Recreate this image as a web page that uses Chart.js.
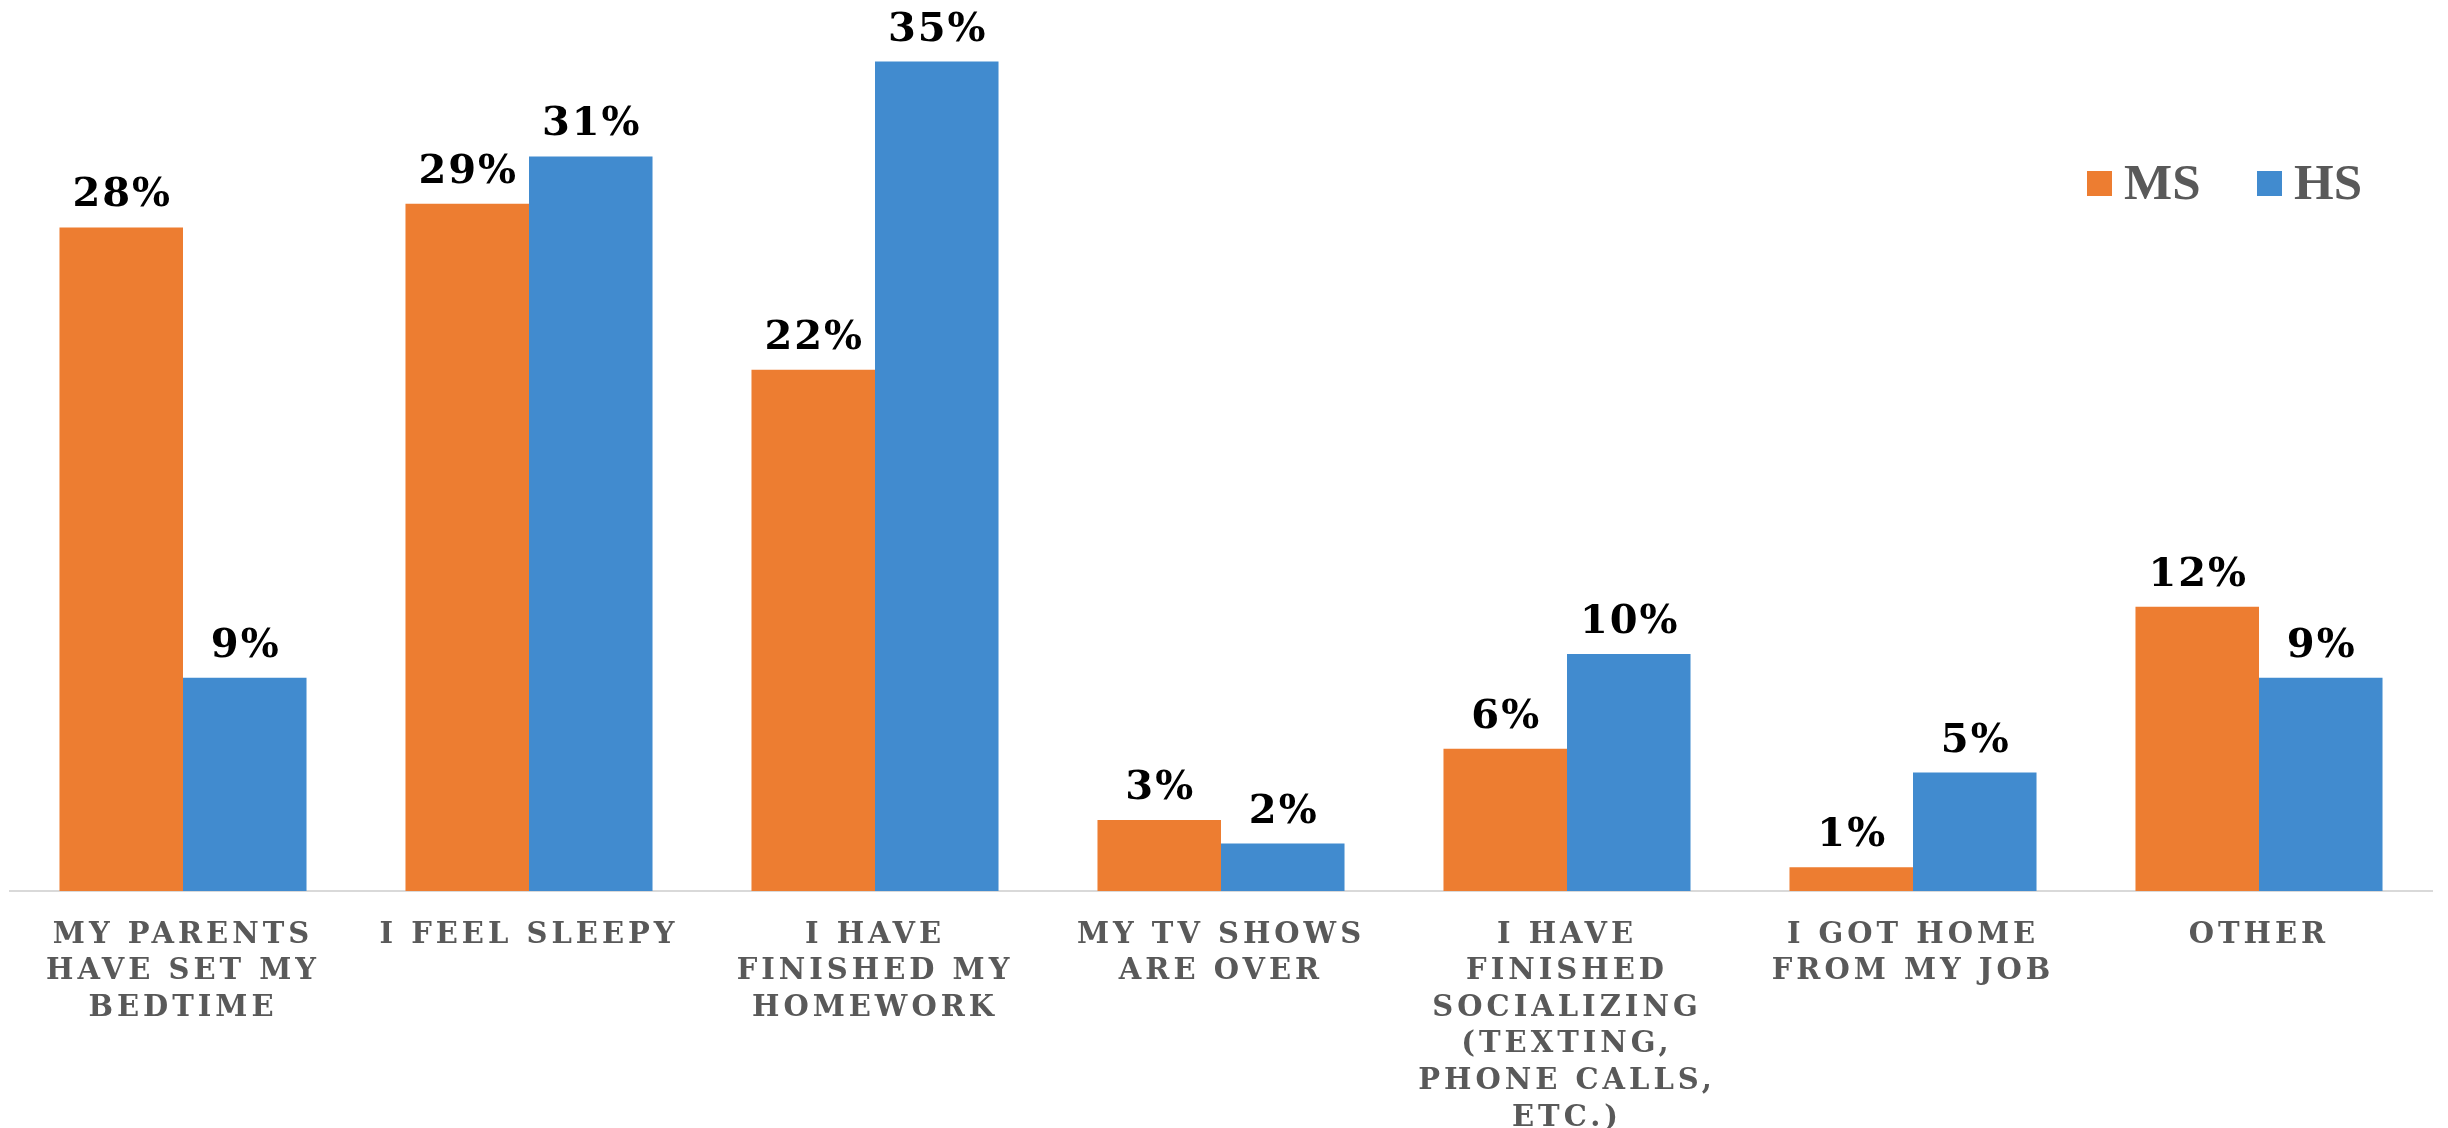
<!DOCTYPE html>
<html>
<head>
<meta charset="utf-8">
<title>Why do you go to bed?</title>
<script src="https://cdn.jsdelivr.net/npm/chart.js@4.4.1/dist/chart.umd.min.js"></script>
<style>
  html, body { margin: 0; padding: 0; background: #ffffff; }
  #wrap { width: 2448px; height: 1128px; }
</style>
</head>
<body>
<div id="wrap"><canvas id="chart" width="2448" height="1128"></canvas></div>
<script>
// Survey answers, one entry per reason (multi-line axis labels)
const categories = [
  ["MY PARENTS", "HAVE SET MY", "BEDTIME"],
  ["I FEEL SLEEPY"],
  ["I HAVE", "FINISHED MY", "HOMEWORK"],
  ["MY TV SHOWS", "ARE OVER"],
  ["I HAVE", "FINISHED", "SOCIALIZING", "(TEXTING,", "PHONE CALLS,", "ETC.)"],
  ["I GOT HOME", "FROM MY JOB"],
  ["OTHER"]
];
const seriesNames = ["MS", "HS"];
const msValues = [28, 29, 22, 3, 6, 1, 12];   // middle school, percent
const hsValues = [9, 31, 35, 2, 10, 5, 9];    // high school, percent

const ORANGE = "#ED7D31";
const BLUE = "#418BCF";
const GRAY_TEXT = "#595959";
const AXIS_SPACING = 4;     // px between letters of the category labels
const VALUE_SPACING = 2;    // px between letters of the percent labels

// Letter spacing for axis text (canvas state is reset on resize, so reapply)
const spacingPlugin = {
  id: "spacing",
  beforeLayout(chart) { chart.ctx.letterSpacing = AXIS_SPACING + "px"; },
  beforeDraw(chart) { chart.ctx.letterSpacing = AXIS_SPACING + "px"; }
};

// Percent labels above each bar
const valueLabels = {
  id: "valueLabels",
  afterDatasetsDraw(chart) {
    const ctx = chart.ctx;
    ctx.save();
    ctx.letterSpacing = VALUE_SPACING + "px";
    ctx.font = "bold 40px 'DejaVu Serif'";
    ctx.fillStyle = "#000000";
    ctx.textAlign = "center";
    ctx.textBaseline = "alphabetic";
    chart.data.datasets.forEach((ds, i) => {
      chart.getDatasetMeta(i).data.forEach((bar, j) => {
        ctx.fillText(ds.data[j] + "%", bar.x + VALUE_SPACING / 2, bar.y - 21);
      });
    });
    ctx.restore();
  }
};

// Legend placed inside the plot, upper right
const insideLegend = {
  id: "insideLegend",
  afterDraw(chart) {
    const ctx = chart.ctx;
    ctx.save();
    ctx.letterSpacing = "0px";
    ctx.font = "bold 51px 'Liberation Serif'";
    ctx.textBaseline = "alphabetic";
    ctx.textAlign = "left";
    const items = [
      { x: 2087, ds: chart.data.datasets[0] },
      { x: 2257, ds: chart.data.datasets[1] }
    ];
    items.forEach(it => {
      ctx.fillStyle = it.ds.backgroundColor;
      ctx.fillRect(it.x, 171, 25, 25);
      ctx.fillStyle = GRAY_TEXT;
      ctx.fillText(it.ds.label, it.x + 37, 199);
    });
    ctx.restore();
  }
};

new Chart(document.getElementById("chart"), {
  type: "bar",
  data: {
    labels: categories,
    datasets: [
      { label: seriesNames[0], data: msValues, backgroundColor: ORANGE },
      { label: seriesNames[1], data: hsValues, backgroundColor: BLUE }
    ]
  },
  options: {
    responsive: false,
    animation: false,
    devicePixelRatio: 1,
    layout: { padding: { left: 10, right: 16, top: 0, bottom: 0 } },
    datasets: {
      bar: { categoryPercentage: 0.714, barPercentage: 1.0, borderWidth: 0 }
    },
    plugins: {
      legend: { display: false },
      tooltip: { enabled: false },
      title: { display: false }
    },
    scales: {
      x: {
        grid: { display: false, drawTicks: false },
        border: { display: true, color: "#D9D9D9", width: 2 },
        ticks: {
          color: GRAY_TEXT,
          padding: 26,
          autoSkip: false,
          maxRotation: 0,
          font: { family: "'DejaVu Serif'", size: 29, weight: "bold", lineHeight: 1.26 }
        },
        afterFit(scale) { scale.height = 237; }
      },
      y: {
        display: false,
        min: 0,
        max: 37.6
      }
    }
  },
  plugins: [spacingPlugin, valueLabels, insideLegend]
});
</script>
</body>
</html>
